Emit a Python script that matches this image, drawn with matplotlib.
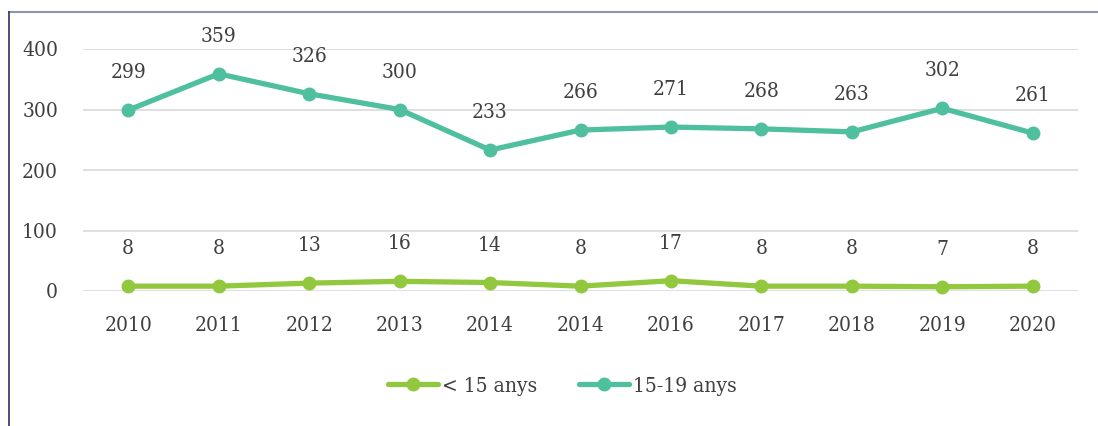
import numpy as np
import matplotlib.pyplot as plt
from matplotlib.lines import Line2D

years = ['2010', '2011', '2012', '2013', '2014', '2014', '2016', '2017', '2018', '2019', '2020']
under15 = [8, 8, 13, 16, 14, 8, 17, 8, 8, 7, 8]
age15_19 = [299, 359, 326, 300, 233, 266, 271, 268, 263, 302, 261]

green = '#92c83e'
teal = '#4ebf9f'
txt = '#404040'

plt.rcParams['font.family'] = ['DejaVu Serif']
plt.rcParams['font.stretch'] = 'condensed'

fig = plt.figure(figsize=(10.98, 4.26), dpi=100)
ax = fig.add_axes([83/1098, 1 - 291/426, 995/1098, 242/426])

x = np.arange(len(years))
ax.plot(x, under15, color=green, lw=3.8, marker='o', ms=9, clip_on=False,
        solid_capstyle='round', label='< 15 anys', zorder=3)
ax.plot(x, age15_19, color=teal, lw=3.8, marker='o', ms=9, clip_on=False,
        solid_capstyle='round', label='15-19 anys', zorder=3)

for xi, v in zip(x, under15):
    ax.annotate(str(v), (xi, v), xytext=(0, 27), textcoords='offset points',
                ha='center', va='center', fontsize=15, color=txt)
for xi, v in zip(x, age15_19):
    ax.annotate(str(v), (xi, v), xytext=(0, 27), textcoords='offset points',
                ha='center', va='center', fontsize=15, color=txt)

ax.set_xlim(-0.5, len(years) - 0.5)
ax.set_ylim(0, 400)
ax.set_yticks([0, 100, 200, 300, 400])
ax.set_xticks(x)
ax.set_xticklabels(years)
ax.tick_params(length=0, labelsize=15, colors=txt)
ax.tick_params(axis='x', pad=18)
ax.tick_params(axis='y', pad=18)
ax.grid(axis='y', color='#d9d9d9', lw=1.2)
ax.set_axisbelow(True)
for s in ax.spines.values():
    s.set_visible(False)

leg = fig.legend(loc='center', bbox_to_anchor=(562/1098, 1 - 386/426), ncol=2,
                 frameon=False, fontsize=15, handlelength=2.4, handletextpad=0.2,
                 columnspacing=2.0)
for t in leg.get_texts():
    t.set_color(txt)

# outer frame
fig.add_artist(Line2D([9/1098, 1], [1 - 12/426] * 2, transform=fig.transFigure,
                      color='#8a94ab', lw=1.5))
fig.add_artist(Line2D([9/1098] * 2, [0, 1 - 12/426], transform=fig.transFigure,
                      color='#2a3560', lw=1.2))

fig.savefig('out.png', dpi=100)
